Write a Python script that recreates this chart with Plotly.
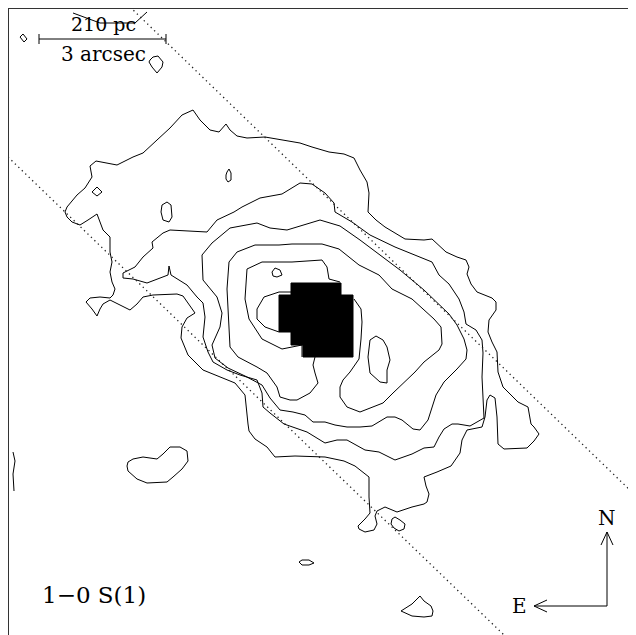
import plotly.graph_objects as go

# Map-plane coordinates (pixels of the original map, x to the right, y downwards)
outer = [(193,110),(200,120),(210,130),(219,132),(226,124),(230,130),(237,136),(247,138),(265,137),(282,140),
         (300,143),(312,147),(329,152),(344,154),(354,158),(360,170),(367,182),(369,193),(368,212),(376,220),
         (385,227),(405,239),(424,240),(432,239),(446,252),(457,257),(466,260),(469,267),(467,274),(471,284),
         (477,292),(492,298),(496,302),(496,310),(489,320),(488,332),(492,342),(497,352),(498,372),(503,387),
         (518,402),(528,407),(531,424),(534,427),(539,434),(534,441),(527,448),(504,449),(498,444),(497,417),
         (495,398),(490,395),(487,400),(485,417),(482,427),(467,430),(462,440),(460,453),(451,466),(437,472),
         (424,477),(426,486),(429,494),(427,502),(424,504),(412,507),(397,512),(385,507),(377,511),(375,516),
         (377,524),(374,530),(365,532),(359,529),(358,526),(365,519),(370,513),(369,497),(369,477),(355,466),
         (344,461),(325,457),(295,456),(275,457),(267,447),(255,439),(249,431),(248,424),(247,413),(245,395),
         (235,383),(220,377),(203,370),(188,355),(181,338),(182,327),(187,318),(195,313),(183,296),(177,294),
         (153,295),(143,297),(137,304),(130,310),(120,305),(110,300),(103,304),(100,309),(97,316),(92,309),
         (86,302),(90,298),(100,297),(110,298),(113,295),(115,289),(112,282),(110,272),(112,262),(110,252),
         (110,237),(103,230),(100,222),(97,214),(88,220),(80,225),(72,222),(67,217),(65,212),(67,207),(77,195),
         (85,188),(92,177),(90,166),(96,161),(117,165),(133,157),(143,153),(157,140),(170,128),(182,115),(193,110)]

level2 = [(123,273),(135,267),(143,257),(153,248),(152,242),(163,233),(170,230),(207,232),(217,220),(234,212),
          (242,207),(260,198),(282,194),(300,183),(312,184),(325,193),(334,203),(335,212),(352,222),(370,235),
          (395,247),(424,259),(432,262),(439,275),(449,284),(459,299),(464,312),(466,324),(476,330),(482,340),
          (483,353),(482,377),(483,400),(484,418),(470,426),(458,424),(452,424),(444,429),(439,437),(434,447),
          (424,448),(412,454),(395,460),(379,452),(365,450),(347,440),(337,440),(325,443),(307,432),(292,427),
          (284,424),(270,413),(263,407),(262,393),(257,380),(240,375),(227,370),(213,362),(208,352),(203,337),
          (205,317),(203,303),(197,297),(187,285),(171,275),(169,266),(168,275),(147,283),(133,279),(123,278),(123,273)]

level3 = [(203,280),(202,255),(212,243),(230,228),(257,223),(270,228),(287,230),(320,220),(340,226),(360,240),
          (380,255),(400,270),(424,290),(437,302),(449,314),(457,325),(464,339),(467,350),(466,359),(457,369),
          (444,382),(436,395),(431,412),(428,420),(420,430),(413,429),(402,420),(395,417),(387,417),(372,426),
          (360,427),(347,427),(335,425),(325,422),(313,422),(305,415),(293,412),(280,410),(270,398),(262,385),
          (245,376),(228,368),(215,358),(212,345),(220,327),(222,313),(217,297),(203,280)]

level4 = [(315,357),(313,365),(315,373),(318,383),(310,393),(297,400),(290,400),(280,397),(277,387),(267,373),
          (257,367),(238,357),(230,347),(228,313),(227,289),(229,262),(237,252),(255,245),(279,245),(292,244),
          (322,244),(339,249),(359,265),(379,275),(392,289),(412,299),(424,310),(434,319),(441,327),(442,344),
          (439,350),(424,362),(415,372),(403,383),(393,393),(383,403),(370,408),(360,412),(347,407),(340,397),
          (340,387),(343,380),(350,372),(359,359),(361,339),(362,322),(361,309),(354,299)]

level5 = [(340,282),(329,279),(327,267),(322,260),(292,262),(262,262),(247,269),(245,299),(249,319),(262,339),
          (282,349),(302,345),(302,357)]

level6 = [(291,292),(279,292),(264,297),(257,309),(257,319),(265,327),(279,332)]

islands = {
    "nw_diamond": [(20,37),(23,34),(27,39),(24,42),(20,37)],
    "top_edge": [(73,13),(100,23),(135,23),(147,12)],
    "teardrop_top": [(150,60),(153,57),(158,56),(163,62),(162,67),(157,73),(152,67),(149,62),(150,60)],
    "diamond_left": [(92,192),(97,187),(102,192),(97,196),(92,192)],
    "teardrop_mid": [(162,205),(167,202),(171,205),(172,217),(169,222),(163,220),(161,212),(162,205)],
    "oval_top": [(227,172),(229,169),(231,173),(231,180),(228,182),(226,179),(226,175),(227,172)],
    "tiny_ring": [(272,272),(275,268),(280,270),(282,275),(277,277),(273,276),(272,272)],
    "east_island": [(370,340),(368,357),(370,373),(380,382),(387,383),(387,370),(390,360),(387,347),(383,340),(376,336),(370,340)],
    "edge_sliver": [(13,452),(15,461),(13,474),(14,491)],
    "sw_blob": [(128,462),(133,459),(143,457),(157,459),(163,454),(170,447),(180,447),(187,451),(188,461),
                (182,469),(173,477),(167,482),(147,483),(137,479),(128,471),(127,466),(128,462)],
    "ring_s": [(392,519),(395,517),(400,520),(405,524),(404,529),(399,531),(394,528),(391,524),(392,519)],
    "chip_s": [(299,562),(302,560),(309,560),(314,563),(309,565),(302,565),(299,562)],
    "blob_bottom": [(401,611),(412,604),(420,596),(424,601),(431,606),(433,611),(432,616),(424,617),(412,616),(401,611)],
}

# masked nucleus (saturated pixels)
mask = [(291,283),(341,283),(341,295),(353,295),(353,357),(303,357),(303,345),(291,345),(291,332),(279,332),
        (279,295),(291,295),(291,283)]

# slit edges
slit_lower = [(8,157),(504,635)]
slit_upper = [(130,7),(636,496)]

# scale bar
bar = [(39,39),(166,39)]
bar_label_top = "210 pc"
bar_label_bottom = "3 arcsec"
line_label = "1\u22120 S(1)"

# compass
north_arrow = [(607,532),(607,606),(534,606)]
north_head = [(601,545),(607,532),(613,545)]
east_head = [(547,600),(534,606),(547,612)]

fig = go.Figure()

def add_path(pts, **kw):
    fig.add_trace(go.Scatter(x=[p[0] for p in pts], y=[p[1] for p in pts], mode="lines",
                             hoverinfo="skip", showlegend=False, **kw))

for pts in [outer, level2, level3, level4, level5, level6] + list(islands.values()):
    add_path(pts, line=dict(color="black", width=1))

add_path(mask, fill="toself", fillcolor="black", line=dict(color="black", width=1))

for s in [slit_lower, slit_upper]:
    add_path(s, line=dict(color="#222", width=1.3, dash="1.3px,3.5px"))

add_path(bar, line=dict(color="black", width=1))
for bx in [bar[0][0], bar[1][0]]:
    add_path([(bx, bar[0][1]-5), (bx, bar[0][1]+5)], line=dict(color="black", width=1))

for pts in [north_arrow, north_head, east_head]:
    add_path(pts, line=dict(color="black", width=1))

serif = "DejaVu Serif, Liberation Serif, serif"
def label(x, y, t, size):
    fig.add_annotation(x=x, y=y, text=t, showarrow=False,
                       font=dict(family=serif, size=size, color="black"))

label(103, 24, bar_label_top, 19)
label(103, 54, bar_label_bottom, 20)
label(94, 595, line_label, 23)
label(607, 518, "N", 20)
label(519, 606, "E", 20)

# page body margin is 8 px, so the figure starts at (8, 8) in the window
fig.update_layout(width=628, height=627, margin=dict(l=0, r=0, t=0, b=0),
                  paper_bgcolor="white", plot_bgcolor="white")
fig.update_xaxes(range=[8, 636], showgrid=False, zeroline=False, showticklabels=False, ticks="",
                 showline=False)
fig.update_yaxes(range=[635, 8], showgrid=False, zeroline=False, showticklabels=False, ticks="",
                 showline=False)
fig.add_shape(type="line", xref="paper", yref="paper", x0=0, y0=0, x1=0, y1=1, line=dict(color="#333", width=2))
fig.add_shape(type="line", xref="paper", yref="paper", x0=0, y0=1, x1=1, y1=1, line=dict(color="#333", width=2))

fig.write_html("out.html")
